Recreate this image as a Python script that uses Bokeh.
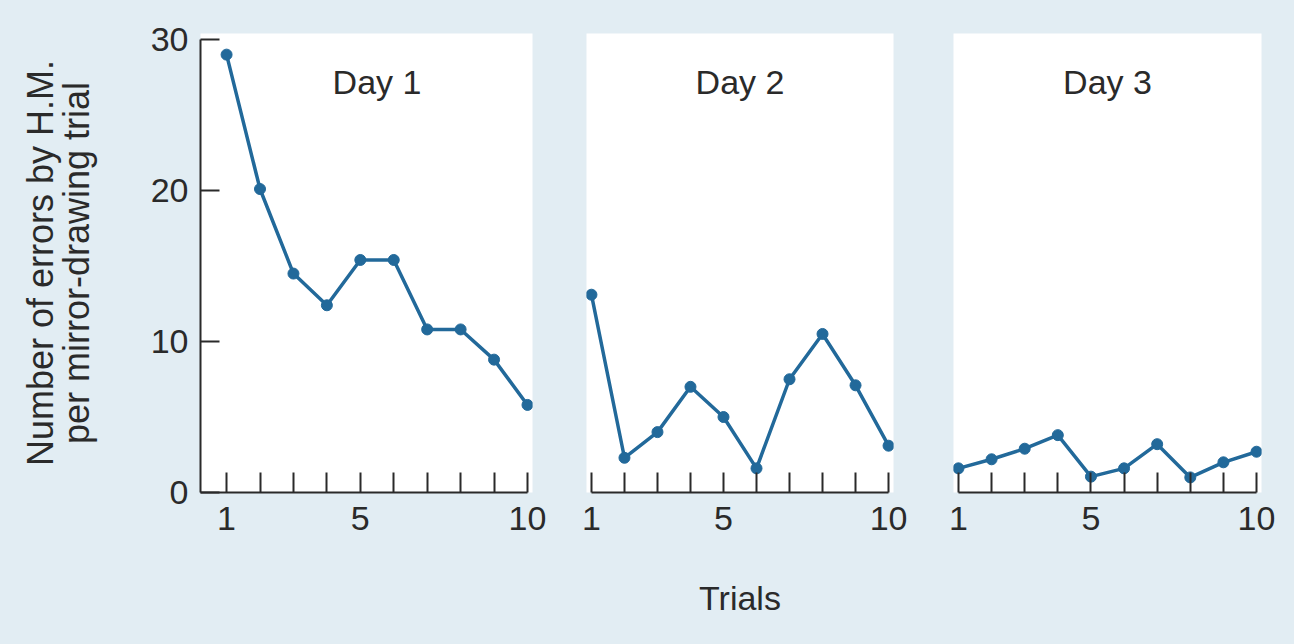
from bokeh.plotting import figure
from bokeh.layouts import row
from bokeh.models import FixedTicker, Range1d
from bokeh.embed import file_html
from bokeh.resources import INLINE

trials = [1, 2, 3, 4, 5, 6, 7, 8, 9, 10]
day1 = [29.0, 20.1, 14.5, 12.4, 15.4, 15.4, 10.8, 10.8, 8.8, 5.8]
day2 = [13.1, 2.3, 4.0, 7.0, 5.0, 1.6, 7.5, 10.5, 7.1, 3.1]
day3 = [1.6, 2.2, 2.9, 3.8, 1.05, 1.6, 3.2, 1.0, 2.0, 2.7]
day_titles = ["Day 1", "Day 2", "Day 3"]
x_tick_labels = {1: "1", 5: "5", 10: "10"}
y_ticks = [0, 10, 20, 30]
y_label = "Number of errors by H.M.\nper mirror-drawing trial"
x_label = "Trials"

BG = "#e2edf3"
LINE = "#22699a"
TXT = "#2a2a2a"
FONT = "Liberation Sans"
H = 640


def make_panel(values, title, width, left, right, x_start, show_y, show_xlabel):
    p = figure(width=width, height=H, output_backend="svg", toolbar_location=None,
               x_range=Range1d(x_start, 10.15), y_range=Range1d(0, 30.4),
               y_axis_location="left" if show_y else None,
               min_border_left=left, min_border_right=right,
               min_border_top=33, min_border_bottom=H - 492)
    p.background_fill_color = "white"
    p.border_fill_color = BG
    p.outline_line_color = None
    p.grid.visible = False

    p.line(trials, values, line_color=LINE, line_width=3.5)
    p.scatter(trials, values, size=11, fill_color=LINE, line_color=LINE)

    xa = p.xaxis[0]
    xa.ticker = FixedTicker(ticks=trials)
    xa.major_label_overrides = {t: x_tick_labels.get(t, "") for t in trials}
    xa.bounds = (x_start, 10) if show_y else (1, 10)
    xa.major_tick_in = 20
    xa.major_tick_out = 0
    xa.minor_tick_line_color = None
    xa.axis_line_width = 2
    xa.major_tick_line_width = 2
    xa.axis_line_color = TXT
    xa.major_tick_line_color = TXT
    xa.major_label_text_font = FONT
    xa.major_label_text_font_size = "34px"
    xa.major_label_text_color = TXT
    xa.major_label_standoff = 14
    if show_xlabel:
        xa.axis_label = x_label
        xa.axis_label_text_font = FONT
        xa.axis_label_text_font_size = "34px"
        xa.axis_label_text_font_style = "normal"
        xa.axis_label_text_color = TXT
        xa.axis_label_standoff = 46

    if show_y:
        ya = p.yaxis[0]
        ya.ticker = FixedTicker(ticks=y_ticks)
        ya.bounds = (0, 30)
        ya.major_tick_in = 19
        ya.major_tick_out = 0
        ya.minor_tick_line_color = None
        ya.axis_line_width = 2
        ya.major_tick_line_width = 2
        ya.axis_line_color = TXT
        ya.major_tick_line_color = TXT
        ya.major_label_text_font = FONT
        ya.major_label_text_font_size = "34px"
        ya.major_label_text_color = TXT
        ya.major_label_standoff = 12
        ya.axis_label = y_label
        ya.axis_label_text_font = FONT
        ya.axis_label_text_font_size = "36px"
        ya.axis_label_text_font_style = "normal"
        ya.axis_label_text_color = TXT
        ya.axis_label_text_line_height = 0.88
        ya.axis_label_standoff = 51

    p.text(x=[5.5], y=[27.2], text=[title], text_align="center",
           text_baseline="middle", text_font_size="34px",
           text_color=TXT, text_font={"value": FONT})
    return p


p1 = make_panel(day1, day_titles[0], 560, 200, 28, 0.22, True, False)
p2 = make_panel(day2, day_titles[1], 365, 26, 32, 0.85, False, True)
p3 = make_panel(day3, day_titles[2], 364, 28, 28, 0.85, False, False)

layout = row(p1, p2, p3, spacing=0)
layout.styles = {"background-color": BG}

html = file_html(layout, INLINE)
html = html.replace("</head>",
                    "<style>html, body { background-color: %s !important; }</style>\n</head>" % BG, 1)
open("out.html", "w").write(html)
